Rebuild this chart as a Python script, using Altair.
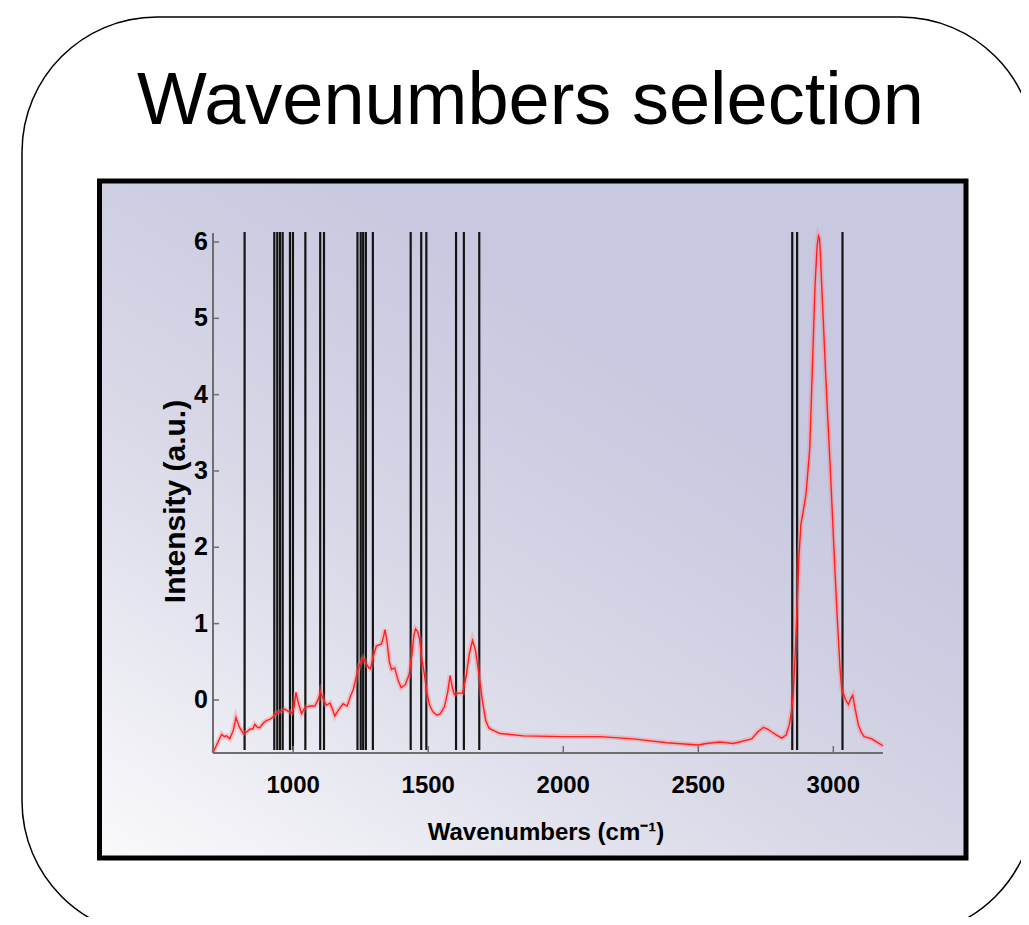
import altair as alt
import pandas as pd

# ---------------- data ----------------
wavenumbers = [703, 715, 735, 745, 753, 765, 778, 788, 800, 815, 828, 840, 850, 858, 868, 877,
               890, 901, 915, 926, 938, 955, 969, 982, 994, 1003, 1010, 1020, 1031, 1040, 1049,
               1065, 1080, 1092, 1101, 1110, 1123, 1136, 1145, 1154, 1170, 1185, 1200, 1212, 1222,
               1232, 1240, 1250, 1259, 1270, 1280, 1286, 1295, 1308, 1326, 1334, 1340, 1348, 1356,
               1364, 1376, 1388, 1400, 1415, 1429, 1440, 1447, 1453, 1460, 1468, 1476, 1486, 1495,
               1505, 1518, 1532, 1545, 1560, 1572, 1581, 1590, 1597, 1612, 1627, 1640, 1652, 1664,
               1675, 1689, 1700, 1713, 1725, 1741, 1766, 1852, 2000, 2136, 2259, 2383, 2500, 2530,
               2580, 2630, 2698, 2720, 2741, 2755, 2772, 2790, 2809, 2825, 2837, 2845, 2852, 2860,
               2867, 2873, 2880, 2890, 2899, 2906, 2913, 2922, 2932, 2940, 2945, 2949, 2953, 2960,
               2969, 2978, 2988, 2997, 3006, 3015, 3025, 3031, 3037, 3046, 3056, 3065, 3072, 3080,
               3093, 3103, 3114, 3125, 3142, 3160, 3179, 3184]
intensity = [-0.69, -0.60, -0.45, -0.48, -0.47, -0.51, -0.40, -0.23, -0.35, -0.44, -0.42, -0.38,
             -0.38, -0.32, -0.36, -0.36, -0.30, -0.27, -0.25, -0.22, -0.17, -0.15, -0.12, -0.15,
             -0.17, -0.10, 0.10, -0.05, -0.18, -0.12, -0.09, -0.08, -0.08, 0.00, 0.11, 0.02,
             -0.07, -0.04, -0.12, -0.21, -0.12, -0.05, -0.08, 0.05, 0.13, 0.28, 0.40, 0.50, 0.55,
             0.48, 0.42, 0.41, 0.55, 0.71, 0.73, 0.82, 0.92, 0.75, 0.50, 0.40, 0.42, 0.26, 0.16,
             0.20, 0.33, 0.60, 0.85, 0.93, 0.90, 0.80, 0.55, 0.33, 0.10, -0.07, -0.16, -0.20,
             -0.18, -0.09, 0.10, 0.32, 0.15, 0.07, 0.09, 0.09, 0.30, 0.60, 0.78, 0.65, 0.31, 0.00,
             -0.27, -0.37, -0.40, -0.44, -0.47, -0.48, -0.48, -0.51, -0.56, -0.59, -0.57, -0.55,
             -0.57, -0.51, -0.42, -0.36, -0.38, -0.42, -0.46, -0.50, -0.46, -0.33, -0.15, 0.08,
             0.70, 1.33, 1.90, 2.30, 2.50, 2.70, 3.00, 3.31, 4.30, 5.40, 5.95, 6.08, 6.05, 5.77,
             5.20, 4.48, 3.80, 3.09, 2.40, 1.70, 1.05, 0.41, 0.15, 0.08, 0.00, -0.06, 0.02, 0.06,
             -0.10, -0.33, -0.42, -0.48, -0.49, -0.51, -0.55, -0.59, -0.60]

selected_wavenumbers = [820, 930, 941, 951, 961, 988, 999, 1045, 1100, 1114, 1238, 1250, 1259,
                        1269, 1295, 1435, 1474, 1493, 1603, 1632, 1689, 2848, 2866, 3034]

x_ticks = [1000, 1500, 2000, 2500, 3000]
y_ticks = [0, 1, 2, 3, 4, 5, 6]

main_title = "Wavenumbers selection"
x_title = "Wavenumbers (cm\u207b\u00b9)"
y_title = "Intensity (a.u.)"

# ---------------- layout ----------------
W, H = 670, 524
XDOM = [703, 3184]
YDOM = [-0.695, 6.17]
xs = alt.Scale(domain=XDOM, nice=False, zero=False)
ys = alt.Scale(domain=YDOM, nice=False, zero=False)

LABEL_FONT = "Liberation Sans, Arial, sans-serif"
AXIS_GREY = "#6e6e6e"

spec_df = pd.DataFrame({"wn": wavenumbers, "val": intensity})
sel_df = pd.DataFrame({"wn": selected_wavenumbers})
xt_df = pd.DataFrame({"v": x_ticks, "lab": [str(v) for v in x_ticks]})
yt_df = pd.DataFrame({"v": y_ticks, "lab": [str(v) for v in y_ticks]})
one = pd.DataFrame({"a": [0]})

frame = alt.Chart(one).mark_rect(
    fill="white", stroke="black", strokeWidth=1.5, cornerRadius=135
).encode(x=alt.value(-191), x2=alt.value(822), y=alt.value(-212), y2=alt.value(707))

grad = alt.LinearGradient(
    gradient="linear",
    stops=[alt.GradientStop(offset=0, color="#fafafc"),
           alt.GradientStop(offset=0.55, color="#d9d9e8"),
           alt.GradientStop(offset=1, color="#c8c8e0")],
    x1=0, y1=1, x2=0.6, y2=0.25,
)
panel = alt.Chart(one).mark_rect(
    fill=grad, stroke="black", strokeWidth=5
).encode(x=alt.value(-113.5), x2=alt.value(753), y=alt.value(-48), y2=alt.value(629))

title = alt.Chart(one).mark_text(
    text=main_title, font="Liberation Sans, Arial, sans-serif", fontSize=74,
    align="center", baseline="alphabetic", color="black"
).encode(x=alt.value(317.5), y=alt.value(-105))

sel_rules = alt.Chart(sel_df).mark_rule(color="#141414", strokeWidth=2.2).encode(
    x=alt.X("wn:Q", scale=xs, axis=None),
    y=alt.value(3), y2=alt.value(H - 3),
)

halo = alt.Chart(spec_df).mark_line(color="#ff7a7a", strokeWidth=5, opacity=0.35).encode(
    x=alt.X("wn:Q", scale=xs, axis=None),
    y=alt.Y("val:Q", scale=ys, axis=None),
    order="wn:Q",
)
line = alt.Chart(spec_df).mark_line(color="#ff2020", strokeWidth=1.4).encode(
    x=alt.X("wn:Q", scale=xs, axis=None),
    y=alt.Y("val:Q", scale=ys, axis=None),
    order="wn:Q",
)

x_axis_line = alt.Chart(one).mark_rule(color=AXIS_GREY, strokeWidth=2).encode(
    x=alt.value(0), x2=alt.value(W), y=alt.value(H))
y_axis_line = alt.Chart(one).mark_rule(color=AXIS_GREY, strokeWidth=2).encode(
    x=alt.value(0), y=alt.value(4), y2=alt.value(H))

x_tick_marks = alt.Chart(xt_df).mark_rule(color=AXIS_GREY, strokeWidth=1.5).encode(
    x=alt.X("v:Q", scale=xs, axis=None), y=alt.value(H), y2=alt.value(H - 7))
y_tick_marks = alt.Chart(yt_df).mark_rule(color=AXIS_GREY, strokeWidth=1.5).encode(
    y=alt.Y("v:Q", scale=ys, axis=None), x=alt.value(0), x2=alt.value(6))

x_labels = alt.Chart(xt_df).mark_text(
    font=LABEL_FONT, fontSize=24, fontWeight="bold", align="center", baseline="alphabetic", color="black"
).encode(x=alt.X("v:Q", scale=xs, axis=None), y=alt.value(H + 40), text="lab:N")
y_labels = alt.Chart(yt_df).mark_text(
    font=LABEL_FONT, fontSize=25, fontWeight="bold", align="right", baseline="middle", color="black"
).encode(y=alt.Y("v:Q", scale=ys, axis=None), x=alt.value(-5), text="lab:N")

x_title_mark = alt.Chart(one).mark_text(
    text=x_title, font=LABEL_FONT, fontSize=24, fontWeight="bold",
    align="center", baseline="alphabetic", color="black"
).encode(x=alt.value(333), y=alt.value(611))
y_title_mark = alt.Chart(one).mark_text(
    text=y_title, font=LABEL_FONT, fontSize=30, fontWeight="bold", angle=270,
    align="center", baseline="alphabetic", color="black"
).encode(x=alt.value(-28), y=alt.value(272.5))

chart = alt.layer(
    frame, panel, title, sel_rules, halo, line,
    x_axis_line, y_axis_line, x_tick_marks, y_tick_marks,
    x_labels, y_labels, x_title_mark, y_title_mark,
).properties(
    width=W, height=H,
    autosize=alt.AutoSizeParams(type="none"),
    padding={"left": 205, "top": 221, "right": 138, "bottom": 164},
    background="white",
).configure_view(stroke=None)

chart.save("out.html", embed_options={"renderer": "svg", "actions": False})
